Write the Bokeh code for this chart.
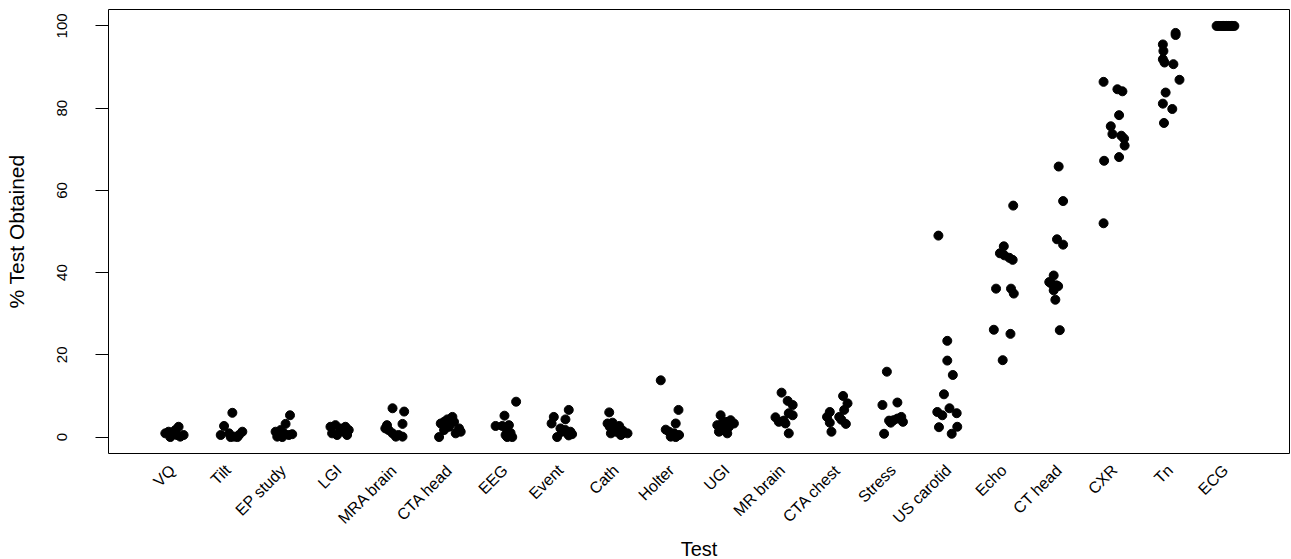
import math
from bokeh.plotting import figure
from bokeh.models import Range1d, FixedTicker, ColumnDataSource, Title
from bokeh.embed import file_html
from bokeh.resources import INLINE

tests = ["VQ", "Tilt", "EP study", "LGI", "MRA brain", "CTA head", "EEG", "Event",
         "Cath", "Holter", "UGI", "MR brain", "CTA chest", "Stress", "US carotid",
         "Echo", "CT head", "CXR", "Tn", "ECG"]

# % of each test obtained (one value per site)
pct_obtained = [
    [0.9, 1.3, 0.5, 1.7, 2.5, 0.1, 0.5, 0.5, 0.0],                                   # VQ
    [5.9, 2.7, 0.5, 0.9, 0.1, 0.5, 1.3, 0.0, 0.0],                                   # Tilt
    [5.3, 3.2, 1.3, 1.7, 0.9, 0.5, 0.7, 0.1, 0.0],                                   # EP study
    [2.5, 2.9, 2.1, 2.5, 1.7, 0.9, 0.5, 1.3, 0.5],                                   # LGI
    [7.0, 6.2, 3.2, 2.1, 1.7, 0.9, 0.1, 0.5, 0.1, 2.9],                              # MRA brain
    [3.3, 3.7, 4.3, 4.9, 2.5, 3.7, 1.7, 0.0, 2.1, 1.3, 0.9],                         # CTA head
    [8.6, 5.2, 2.7, 2.7, 2.9, 1.6, 0.5, 0.0, 1.0, 0.0],                              # EEG
    [6.6, 4.9, 4.3, 3.3, 2.1, 1.7, 1.3, 0.0, 1.3, 0.4, 0.7],                         # Event
    [6.0, 3.3, 3.5, 2.5, 1.8, 2.7, 1.6, 0.9, 0.5, 1.3, 0.9],                         # Cath
    [13.8, 6.6, 3.3, 1.3, 0.9, 0.5, 0.1, 0.0, 1.8],                                  # Holter
    [5.3, 2.9, 3.3, 3.7, 4.1, 3.3, 2.5, 1.7, 1.3, 0.9],                              # UGI
    [10.8, 8.8, 7.8, 5.8, 5.3, 4.8, 3.7, 4.0, 3.3, 0.9],                             # MR brain
    [10.0, 8.2, 6.1, 6.6, 4.9, 4.9, 3.5, 3.2, 4.2, 1.3],                             # CTA chest
    [15.9, 7.8, 8.4, 4.0, 4.1, 4.5, 4.9, 3.7, 3.5, 0.8],                             # Stress
    [49.0, 23.4, 18.6, 15.1, 10.4, 6.1, 5.3, 7.0, 5.8, 2.4, 2.5, 0.8],               # US carotid
    [56.3, 46.4, 44.7, 44.2, 43.6, 43.1, 36.1, 36.1, 34.9, 26.1, 25.1, 18.7],        # Echo
    [65.8, 57.4, 48.1, 46.8, 39.3, 37.7, 37.3, 36.9, 36.7, 35.7, 33.4, 26.0],        # CT head
    [86.4, 84.6, 84.1, 78.3, 75.6, 73.7, 73.3, 72.6, 70.9, 67.2, 68.1, 52.0],        # CXR
    [98.3, 97.8, 95.5, 93.9, 91.9, 91.1, 90.7, 86.9, 83.8, 81.1, 79.8, 76.4],        # Tn
    [100, 100, 100, 100, 100, 100, 100, 100, 100, 100, 100, 100],                    # ECG
]

# horizontal jitter of each point (category units)
jitter = [
    [-0.13, -0.07, -0.01, 0.05, 0.11, 0.14, 0.20, 0.08, -0.04],
    [0.08, -0.07, -0.13, 0.02, 0.11, 0.20, 0.26, 0.17, 0.05],
    [0.12, 0.04, -0.14, -0.05, 0.01, 0.10, 0.16, -0.11, -0.02],
    [-0.15, -0.06, 0.03, 0.12, 0.18, -0.12, -0.03, 0.09, 0.15],
    [-0.03, 0.18, 0.15, -0.16, -0.10, -0.03, 0.03, 0.08, 0.15, -0.13],
    [-0.16, -0.10, -0.04, 0.05, -0.01, 0.08, -0.10, -0.19, 0.17, 0.20, 0.11],
    [0.20, -0.01, -0.17, -0.05, 0.07, 0.04, 0.01, 0.13, 0.10, 0.04],
    [0.15, -0.12, 0.09, -0.16, 0.00, 0.09, 0.18, -0.06, 0.03, 0.15, 0.21],
    [-0.12, -0.15, -0.06, -0.11, -0.03, 0.06, 0.12, 0.21, 0.09, 0.00, -0.09],
    [-0.19, 0.13, 0.08, -0.04, 0.05, 0.14, -0.01, 0.08, -0.10],
    [-0.11, -0.17, -0.08, -0.02, 0.07, 0.13, 0.04, -0.05, -0.14, 0.01],
    [-0.01, 0.10, 0.19, 0.12, 0.19, -0.12, -0.06, 0.03, 0.06, 0.12],
    [0.10, 0.18, -0.14, 0.12, -0.19, 0.03, -0.14, 0.15, 0.07, -0.11],
    [-0.11, -0.19, 0.08, -0.07, 0.01, 0.08, 0.15, 0.18, -0.04, -0.16],
    [-0.18, -0.02, -0.02, 0.08, -0.08, -0.20, -0.11, 0.02, 0.15, -0.17, 0.16, 0.06],
    [0.17, 0.00, -0.07, 0.01, 0.10, 0.16, -0.14, 0.13, 0.18, -0.18, 0.12, -0.02],
    [-0.01, 0.07, -0.04, 0.07, -0.10, -0.18, -0.14, -0.05, -0.02, -0.10, -0.07, 0.01],
    [-0.20, 0.05, 0.14, 0.08, -0.07, -0.04, 0.12, 0.17, 0.18, -0.19, 0.08, -0.20],
    [0.10, 0.10, -0.13, -0.12, -0.13, -0.10, 0.06, 0.17, -0.08, -0.13, 0.04, -0.11],
    [-0.16, -0.13, -0.10, -0.06, -0.04, -0.01, 0.02, 0.05, 0.08, 0.11, 0.13, 0.16],
]

y_ticks = [0, 20, 40, 60, 80, 100]

xs, ys = [], []
for i, (vals, jit) in enumerate(zip(pct_obtained, jitter), start=1):
    for v, j in zip(vals, jit):
        xs.append(i + j)
        ys.append(v)
src = ColumnDataSource(dict(x=xs, y=ys))

FONT = "Liberation Sans"

p = figure(width=1291, height=559, output_backend="svg", toolbar_location=None,
           x_range=Range1d(-0.155, 21.155), y_range=Range1d(-4, 104),
           min_border_left=108, min_border_right=2, min_border_top=9, min_border_bottom=106)
p.background_fill_color = "white"
p.border_fill_color = "white"
p.outline_line_color = "black"
p.outline_line_width = 1
p.xgrid.visible = False
p.ygrid.visible = False

p.scatter("x", "y", source=src, size=9, fill_color="black", line_color="black")

# x axis: rotated category labels, no ticks
xa = p.xaxis[0]
xa.ticker = FixedTicker(ticks=list(range(1, len(tests) + 1)))
xa.major_label_overrides = {i: t for i, t in enumerate(tests, start=1)}
xa.major_label_orientation = math.pi / 4
xa.major_tick_line_color = None
xa.minor_tick_line_color = None
xa.axis_line_color = None
xa.major_label_standoff = 8
xa.major_label_text_font = FONT
xa.major_label_text_font_size = "16px"
xa.major_label_text_color = "black"

# x axis title under the rotated labels
p.add_layout(Title(text="Test", align="center", text_font=FONT, text_font_size="20px",
                   text_font_style="normal", text_color="black", standoff=0, offset=0),
             "below")

ya = p.yaxis[0]
ya.ticker = FixedTicker(ticks=y_ticks)
ya.major_label_orientation = "vertical"
ya.major_tick_out = 13
ya.major_tick_in = 0
ya.major_tick_line_color = "black"
ya.minor_tick_line_color = None
ya.axis_line_color = None
ya.major_label_standoff = 28
ya.major_label_text_font = FONT
ya.major_label_text_font_size = "15px"
ya.major_label_text_color = "black"
ya.axis_label = "% Test Obtained"
ya.axis_label_text_font = FONT
ya.axis_label_text_font_size = "21px"
ya.axis_label_text_font_style = "normal"
ya.axis_label_text_color = "black"
ya.axis_label_standoff = 27

open("out.html", "w").write(file_html(p, INLINE))
